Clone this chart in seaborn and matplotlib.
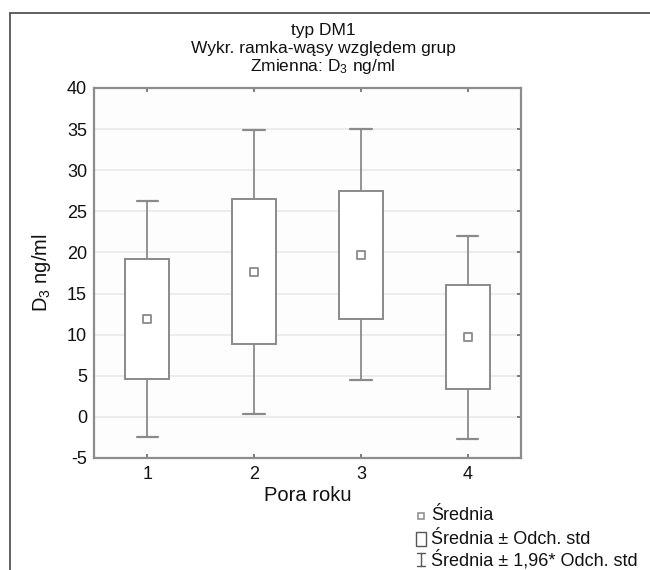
import matplotlib
matplotlib.use("Agg")
import matplotlib.pyplot as plt
from matplotlib.lines import Line2D
from matplotlib.patches import Rectangle
import seaborn as sns
import pandas as pd

# ---- data ----
categories = ["1", "2", "3", "4"]
means = [11.9, 17.6, 19.7, 9.7]
sd_low = [4.6, 8.9, 11.9, 3.4]
sd_high = [19.2, 26.5, 27.5, 16.0]
whisker_low = [-2.5, 0.35, 4.5, -2.65]
whisker_high = [26.3, 34.9, 35.0, 22.0]
yticks = [-5, 0, 5, 10, 15, 20, 25, 30, 35, 40]
title_lines = ["typ DM1", "Wykr. ramka-wąsy względem grup", "Zmienna: D$_3$ ng/ml"]
legend_labels = ["Średnia", "Średnia ± Odch. std", "Średnia ± 1,96* Odch. std"]

fam = "Liberation Sans"
sns.set_style("white")
plt.rcParams["font.family"] = [fam, "DejaVu Sans"]
plt.rcParams["mathtext.fontset"] = "custom"
plt.rcParams["mathtext.rm"] = fam
plt.rcParams["mathtext.it"] = fam

W, H = 650, 570
fig = plt.figure(figsize=(W / 100, H / 100), dpi=100)
fig.patch.set_facecolor("white")

ax = fig.add_axes([94 / W, 1 - 458 / H, (521 - 94) / W, (458 - 88) / H])
ax.set_facecolor("#fdfdfd")

gray = "#8a8a8a"
positions = list(range(1, len(categories) + 1))

stats = []
for m, lo, hi, wl, wh in zip(means, sd_low, sd_high, whisker_low, whisker_high):
    stats.append(dict(med=m, q1=lo, q3=hi, whislo=wl, whishi=wh, fliers=[]))

ax.bxp(stats, positions=positions, widths=0.41, capwidths=0.2,
       showfliers=False, patch_artist=True,
       boxprops=dict(facecolor="white", edgecolor=gray, linewidth=1.4),
       whiskerprops=dict(color=gray, linewidth=1.3),
       capprops=dict(color=gray, linewidth=1.6),
       medianprops=dict(linewidth=0), zorder=3)

df = pd.DataFrame({"pos": positions, "mean": means})
sns.scatterplot(data=df, x="pos", y="mean", marker="s", s=30, color="white",
                edgecolor=gray, linewidth=1.3, ax=ax, zorder=4, legend=False)

ax.set_xlim(0.5, len(categories) + 0.5)
ax.set_ylim(-5, 40)
ax.set_xticks(positions)
ax.set_xticklabels(categories)
ax.set_yticks(yticks)
ax.set_yticklabels([str(t) for t in yticks])
ax.yaxis.grid(True, color="#ebebeb", linewidth=1.3)
ax.xaxis.grid(False)
ax.set_axisbelow(True)

for s in ax.spines.values():
    s.set_visible(True)
    s.set_color("#8c8c8c")
    s.set_linewidth(1.6)

ax.tick_params(axis="both", direction="in", length=3, width=1.2, color="#666666",
               labelsize=13, labelcolor="#111111")
ax.tick_params(axis="x", top=True, bottom=True, pad=6)
ax.tick_params(axis="y", left=False, right=True, pad=5)

ax.set_xlabel("Pora roku", fontsize=14.5, color="#111111", labelpad=2)
ax.set_ylabel("D$_3$ ng/ml", fontsize=14.5, color="#111111", labelpad=10)

# titles
for i, t in enumerate(title_lines):
    fig.text(323 / W, 1 - (31 + 17.5 * i) / H, t, ha="center", va="center",
             fontsize=12.5, color="#111111")

# outer frame (left and top)
fig.add_artist(Line2D([10 / W, 10 / W], [0, 1 - 13 / H], transform=fig.transFigure,
                      color="#555555", linewidth=1.3))
fig.add_artist(Line2D([10 / W, 1], [1 - 13 / H, 1 - 13 / H], transform=fig.transFigure,
                      color="#555555", linewidth=1.3))

# manual legend
lx, ty = 421, [516, 539, 560]
tf = fig.transFigure
fig.add_artist(Rectangle(((lx - 3) / W, 1 - (ty[0] + 3) / H), 6 / W, 6 / H,
                         transform=tf, facecolor="white", edgecolor=gray, linewidth=1.1))
fig.add_artist(Rectangle(((lx - 5) / W, 1 - (ty[1] + 7) / H), 10 / W, 14 / H,
                         transform=tf, facecolor="white", edgecolor="#555555", linewidth=1.0))
fig.add_artist(Line2D([lx / W, lx / W], [1 - (ty[2] - 7) / H, 1 - (ty[2] + 6) / H],
                      transform=tf, color="#555555", linewidth=1.0))
for yy in (ty[2] - 7, ty[2] + 6):
    fig.add_artist(Line2D([(lx - 4) / W, (lx + 4) / W], [1 - yy / H, 1 - yy / H],
                          transform=tf, color="#555555", linewidth=1.0))
for label, yy in zip(legend_labels, ty):
    fig.text(431 / W, 1 - yy / H, label, ha="left", va="center", fontsize=13,
             color="#111111")

fig.savefig("out.png", dpi=100)
